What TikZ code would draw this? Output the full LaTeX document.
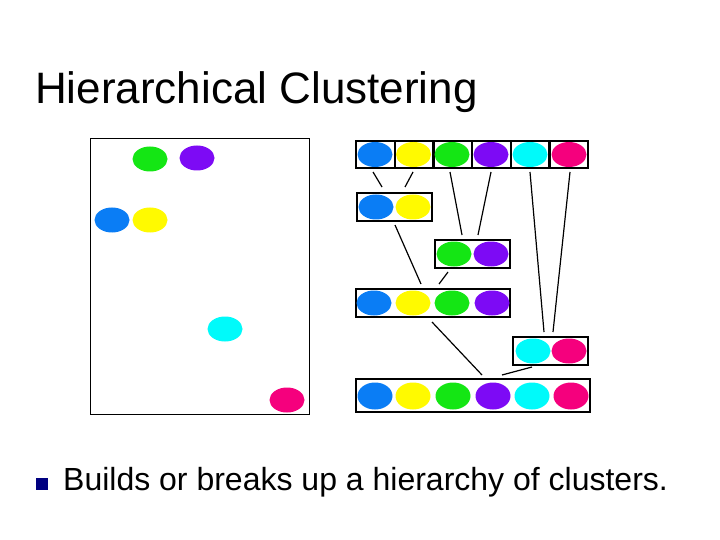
\documentclass[tikz,border=0pt]{standalone}
\usepackage{fontspec}
\setmainfont{Liberation Sans}
\usetikzlibrary{shapes.geometric}
\definecolor{cblue}{RGB}{10,125,245}
\definecolor{cyellow}{RGB}{255,250,0}
\definecolor{cgreen}{RGB}{20,230,20}
\definecolor{cpurple}{RGB}{125,10,245}
\definecolor{ccyan}{RGB}{0,250,250}
\definecolor{cmagenta}{RGB}{245,0,125}
\definecolor{bulletblue}{RGB}{0,0,128}
\tikzset{
  ell/.style={ellipse, inner sep=0pt, minimum width=35, minimum height=25},
  rowbox/.style={draw=black, line width=2.4pt, inner sep=0pt},
  plotbox/.style={draw=black, line width=1pt, inner sep=0pt},
  divider/.style={black, line width=2.4pt},
  link/.style={black, line width=1.2pt},
  titletext/.style={anchor=base west, inner sep=0pt, font=\fontsize{44}{50}\selectfont},
  bodytext/.style={anchor=base west, inner sep=0pt, font=\fontsize{32}{37}\selectfont}
}
\begin{document}
\begin{tikzpicture}[x=1pt,y=-1pt]
\useasboundingbox[fill=white] (0,0) rectangle (720,540);
% title
\node[titletext] (title) at (35,104) {Hierarchical Clustering};
% left scatter plot
\node[plotbox, minimum width=219, minimum height=275] (plot) at (199.5,276.5) {};
\node[ell, fill=cgreen] (pg) at (150,159) {};
\node[ell, fill=cpurple] (pp) at (197,158) {};
\node[ell, fill=cblue] (pb) at (112,220) {};
\node[ell, fill=cyellow] (py) at (150,220) {};
\node[ell, fill=ccyan] (pc) at (225,329) {};
\node[ell, fill=cmagenta] (pm) at (287,400) {};
% row 1: singletons
\node[rowbox, minimum width=232, minimum height=27] (r1) at (472,154.5) {};
\foreach \xx in {394.7,433.3,472,510.7,549.3} \draw[divider] (\xx,141) -- (\xx,168);
\node[ell, fill=cblue] (a1) at (375,154.5) {};
\node[ell, fill=cyellow] (a2) at (413.5,154.5) {};
\node[ell, fill=cgreen] (a3) at (452,154.5) {};
\node[ell, fill=cpurple] (a4) at (491,154.5) {};
\node[ell, fill=ccyan] (a5) at (530,154.5) {};
\node[ell, fill=cmagenta] (a6) at (569,154.5) {};
% row 2: blue-yellow
\node[rowbox, minimum width=75, minimum height=28] (r2) at (394.5,207) {};
\node[ell, fill=cblue] (b1) at (376,207) {};
\node[ell, fill=cyellow] (b2) at (413,207) {};
% row 3: green-purple
\node[rowbox, minimum width=75, minimum height=28] (r3) at (472.5,254) {};
\node[ell, fill=cgreen] (c1) at (454,254) {};
\node[ell, fill=cpurple] (c2) at (491,254) {};
% row 4: four
\node[rowbox, minimum width=154, minimum height=28] (r4) at (433,303) {};
\node[ell, fill=cblue] (d1) at (374,303) {};
\node[ell, fill=cyellow] (d2) at (413,303) {};
\node[ell, fill=cgreen] (d3) at (452,303) {};
\node[ell, fill=cpurple] (d4) at (492,303) {};
% row 5: cyan-magenta
\node[rowbox, minimum width=75, minimum height=28] (r5) at (550.5,351) {};
\node[ell, fill=ccyan] (e1) at (533,351) {};
\node[ell, fill=cmagenta] (e2) at (569,351) {};
% row 6: all
\node[rowbox, minimum width=234, minimum height=33] (r6) at (473,395.5) {};
\node[ell, fill=cblue, minimum height=27] (f1) at (375,396) {};
\node[ell, fill=cyellow, minimum height=27] (f2) at (413,396) {};
\node[ell, fill=cgreen, minimum height=27] (f3) at (453,396) {};
\node[ell, fill=cpurple, minimum height=27] (f4) at (493,396) {};
\node[ell, fill=ccyan, minimum height=27] (f5) at (532,396) {};
\node[ell, fill=cmagenta, minimum height=27] (f6) at (571,396) {};
% connector end points
\coordinate (l1a) at (373,172); \coordinate (l1b) at (382,187);
\coordinate (l2a) at (413,172); \coordinate (l2b) at (405,187);
\coordinate (l3a) at (450,172); \coordinate (l3b) at (462,235);
\coordinate (l4a) at (491,172); \coordinate (l4b) at (478,235);
\coordinate (l5a) at (530,172); \coordinate (l5b) at (544,332);
\coordinate (l6a) at (570,172); \coordinate (l6b) at (553,332);
\coordinate (l7a) at (395,225); \coordinate (l7b) at (421,284);
\coordinate (l8a) at (448,272); \coordinate (l8b) at (439,284);
\coordinate (l9a) at (432,322); \coordinate (l9b) at (482,375);
\coordinate (l10a) at (532,367); \coordinate (l10b) at (502,375);
\draw[link] (l1a) -- (l1b);
\draw[link] (l2a) -- (l2b);
\draw[link] (l3a) -- (l3b);
\draw[link] (l4a) -- (l4b);
\draw[link] (l5a) -- (l5b);
\draw[link] (l6a) -- (l6b);
\draw[link] (l7a) -- (l7b);
\draw[link] (l8a) -- (l8b);
\draw[link] (l9a) -- (l9b);
\draw[link] (l10a) -- (l10b);
% bullet
\node[fill=bulletblue, minimum size=12, inner sep=0pt] (bul) at (42,483.5) {};
\node[bodytext] (body) at (63,490) {Builds or breaks up a hierarchy of clusters.};
\end{tikzpicture}
\end{document}
